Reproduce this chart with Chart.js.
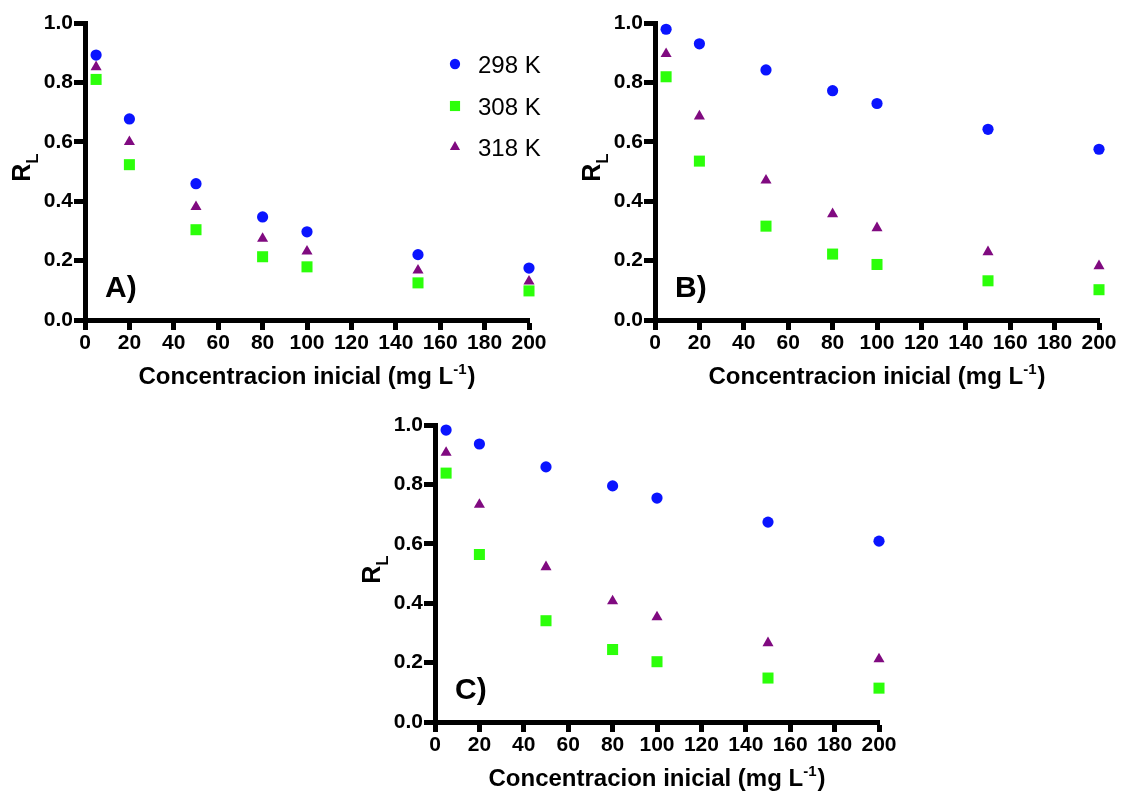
<!DOCTYPE html>
<html>
<head>
<meta charset="utf-8">
<title>RL vs concentracion inicial</title>
<script src="https://cdn.jsdelivr.net/npm/chart.js@4.4.1/dist/chart.umd.min.js"></script>
<style>
  html, body { margin: 0; padding: 0; background: #ffffff; }
  #wrap { position: relative; width: 1125px; height: 795px; overflow: hidden; background: #ffffff; }
  canvas { position: absolute; display: block; }
</style>
</head>
<body>
<div id="wrap">
  <canvas id="chartA" width="560" height="400" style="left:0px;top:0px"></canvas>
  <canvas id="chartB" width="565" height="400" style="left:560px;top:0px"></canvas>
  <canvas id="chartC" width="560" height="395" style="left:350px;top:400px"></canvas>
</div>
<script>
// ---- data ----
const concentrations = [5, 20, 50, 80, 100, 150, 200];          // mg L-1
const seriesLabels = ['298 K', '308 K', '318 K'];
const xTickValues = [0, 20, 40, 60, 80, 100, 120, 140, 160, 180, 200];
const yTickValues = [0, 0.2, 0.4, 0.6, 0.8, 1.0];
const yTickLabels = ['0.0', '0.2', '0.4', '0.6', '0.8', '1.0'];
const panelLabels = ['A)', 'B)', 'C)'];
const xTitleMain = 'Concentracion inicial (mg L';
const xTitleSup = '-1';
const xTitleEnd = ')';
const yTitleMain = 'R';
const yTitleSub = 'L';

// panel A
const rlA298 = [0.892, 0.677, 0.459, 0.347, 0.297, 0.220, 0.175];
const rlA308 = [0.810, 0.523, 0.304, 0.213, 0.179, 0.125, 0.098];
const rlA318 = [0.852, 0.600, 0.381, 0.274, 0.231, 0.167, 0.130];
// panel B
const rlB298 = [0.979, 0.930, 0.842, 0.772, 0.729, 0.642, 0.575];
const rlB308 = [0.819, 0.535, 0.316, 0.222, 0.187, 0.132, 0.102];
const rlB318 = [0.896, 0.686, 0.470, 0.357, 0.310, 0.229, 0.182];
// panel C
const rlC298 = [0.983, 0.936, 0.859, 0.795, 0.754, 0.673, 0.609];
const rlC308 = [0.838, 0.564, 0.341, 0.244, 0.203, 0.148, 0.114];
const rlC318 = [0.907, 0.732, 0.522, 0.407, 0.353, 0.266, 0.212];

// ---- styles ----
const FONT = "'Liberation Sans', Arial, Helvetica, sans-serif";
const seriesStyles = [
  { color: '#0a14ff', pointStyle: 'circle',   radius: 5.6, order: 2 },
  { color: '#2cff0a', pointStyle: 'rect',     radius: 7.8, order: 0 },
  { color: '#800a80', pointStyle: 'triangle', radius: 6.4, order: 1 }
];

function drawMarker(ctx, style, x, y) {
  const opts = { pointStyle: style.pointStyle, radius: style.radius, rotation: 0, borderWidth: 0 };
  ctx.fillStyle = style.color;
  ctx.strokeStyle = style.color;
  if (Chart.helpers && Chart.helpers.drawPoint) {
    Chart.helpers.drawPoint(ctx, opts, x, y);
  }
}

// axis titles, panel letter and legend drawn on top of each chart
const panelDecor = {
  id: 'panelDecor',
  afterDraw(chart, args, opts) {
    const ctx = chart.ctx;
    const a = chart.chartArea;
    ctx.save();
    ctx.fillStyle = '#000';
    ctx.textAlign = 'left';
    ctx.textBaseline = 'alphabetic';

    // x-axis title with superscript
    const mainFont = 'bold 24px ' + FONT;
    const supFont = 'bold 15px ' + FONT;
    ctx.font = mainFont;
    const w1 = ctx.measureText(xTitleMain).width;
    const w3 = ctx.measureText(xTitleEnd).width;
    ctx.font = supFont;
    const w2 = ctx.measureText(xTitleSup).width;
    const total = w1 + w2 + w3 + 1;
    let tx = (a.left + a.right) / 2 - total / 2;
    const ty = a.bottom + 64;
    ctx.font = mainFont;
    ctx.fillText(xTitleMain, tx, ty);
    tx += w1;
    ctx.font = supFont;
    ctx.fillText(xTitleSup, tx, ty - 10);
    tx += w2 + 1;
    ctx.font = mainFont;
    ctx.fillText(xTitleEnd, tx, ty);

    // y-axis title with subscript, rotated
    ctx.save();
    ctx.translate(a.left - 55, (a.top + a.bottom) / 2 - 4);
    ctx.rotate(-Math.PI / 2);
    const rFont = 'bold 25px ' + FONT;
    const lFont = 'bold 17px ' + FONT;
    ctx.font = rFont;
    const rw = ctx.measureText(yTitleMain).width;
    ctx.font = lFont;
    const lw = ctx.measureText(yTitleSub).width;
    const start = -(rw + lw) / 2;
    ctx.font = rFont;
    ctx.fillText(yTitleMain, start, 0);
    ctx.font = lFont;
    ctx.fillText(yTitleSub, start + rw, 8);
    ctx.restore();

    // panel letter
    ctx.font = 'bold 30px ' + FONT;
    ctx.fillText(opts.letter, a.left + 20, a.bottom - 23);

    // legend
    if (opts.legend) {
      const rows = [41, 83, 124];
      ctx.font = '24px ' + FONT;
      seriesLabels.forEach((lab, i) => {
        const y = a.top + rows[i];
        drawMarker(ctx, Object.assign({}, seriesStyles[i], { radius: seriesStyles[i].radius * 0.92 }), a.left + 370, y);
        ctx.fillStyle = '#000';
        ctx.fillText(lab, a.left + 393, y + 8.5);
      });
    }
    ctx.restore();
  }
};

function makeChart(canvasId, values, frame, letter, showLegend) {
  const datasets = values.map((vals, i) => ({
    label: seriesLabels[i],
    data: concentrations.map((c, k) => ({ x: c, y: vals[k] })),
    showLine: false,
    pointStyle: seriesStyles[i].pointStyle,
    pointRadius: seriesStyles[i].radius,
    pointHoverRadius: seriesStyles[i].radius,
    pointBackgroundColor: seriesStyles[i].color,
    pointBorderColor: seriesStyles[i].color,
    pointBorderWidth: 0,
    backgroundColor: seriesStyles[i].color,
    borderColor: seriesStyles[i].color,
    order: seriesStyles[i].order,
    clip: false
  }));

  const tickFont = { family: FONT, size: 21, weight: 'bold' };
  return new Chart(document.getElementById(canvasId), {
    type: 'scatter',
    data: { datasets },
    plugins: [panelDecor],
    options: {
      responsive: false,
      animation: false,
      events: [],
      layout: { padding: { left: 0, top: frame.top, right: frame.right, bottom: 0 } },
      plugins: {
        legend: { display: false },
        tooltip: { enabled: false },
        panelDecor: { letter, legend: showLegend }
      },
      scales: {
        x: {
          type: 'linear',
          min: xTickValues[0],
          max: xTickValues[xTickValues.length - 1],
          afterBuildTicks: s => { s.ticks = xTickValues.map(v => ({ value: v })); },
          ticks: { color: '#000', font: tickFont, padding: 1, maxRotation: 0, autoSkip: false },
          grid: { display: true, drawOnChartArea: false, drawTicks: true, tickLength: 10, tickWidth: 5, tickColor: '#000', color: '#000' },
          border: { display: true, color: '#000', width: 5 },
          afterFit: s => { s.height = frame.xHeight; }
        },
        y: {
          type: 'linear',
          min: yTickValues[0],
          max: yTickValues[yTickValues.length - 1],
          afterBuildTicks: s => { s.ticks = yTickValues.map(v => ({ value: v })); },
          ticks: {
            color: '#000', font: tickFont, padding: 1, autoSkip: false,
            callback: (v) => {
              const k = yTickValues.findIndex(t => Math.abs(t - v) < 1e-9);
              return k >= 0 ? yTickLabels[k] : '';
            }
          },
          grid: { display: true, drawOnChartArea: false, drawTicks: true, tickLength: 11, tickWidth: 5, tickColor: '#000', color: '#000' },
          border: { display: true, color: '#000', width: 5 },
          afterFit: s => { s.width = frame.yWidth; }
        }
      }
    }
  });
}

makeChart('chartA', [rlA298, rlA308, rlA318], { top: 23, right: 31, xHeight: 80, yWidth: 85 }, panelLabels[0], true);
makeChart('chartB', [rlB298, rlB308, rlB318], { top: 23, right: 26, xHeight: 80, yWidth: 95 }, panelLabels[1], false);
makeChart('chartC', [rlC298, rlC308, rlC318], { top: 25, right: 31, xHeight: 73, yWidth: 85 }, panelLabels[2], false);
</script>
</body>
</html>
